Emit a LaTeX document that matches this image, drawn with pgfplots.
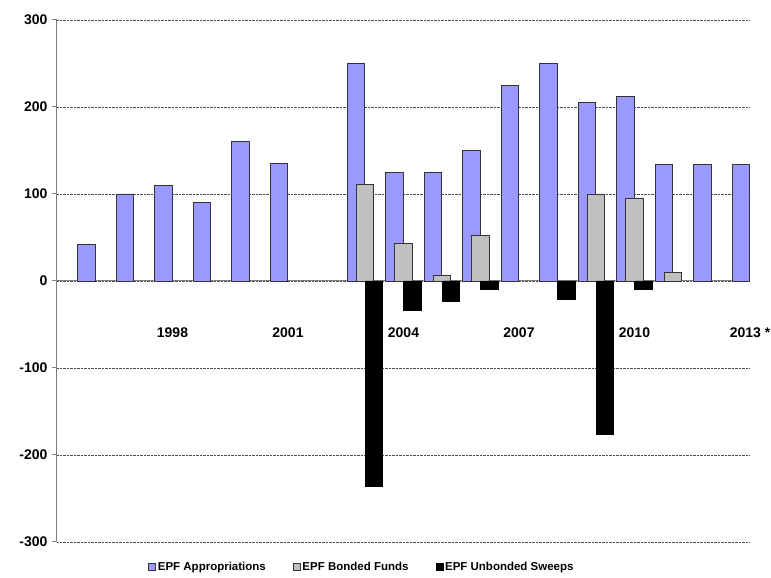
\documentclass[border=0pt]{standalone}
\usepackage{fontspec}
\setmainfont{Liberation Sans}
\usepackage{pgfplots}
\pgfplotsset{compat=1.18}
\definecolor{approp}{HTML}{9999FF}
\definecolor{bonded}{HTML}{C0C0C0}
\definecolor{edge}{HTML}{333333}
\definecolor{axgray}{HTML}{808080}
\begin{document}
\begin{tikzpicture}
\useasboundingbox (-57pt,-36pt) rectangle (714pt,542pt);
\begin{axis}[
  at={(0pt,0pt)}, anchor=south west,
  scale only axis, width=693pt, height=522pt,
  xmin=1995, xmax=2013, ymin=-300, ymax=300,
  axis x line=middle, axis y line=left,
  axis line style={-, draw=axgray, line width=1pt},
  xtick={1998,2001,2004,2007,2010,2013},
  xticklabels={1998,2001,2004,2007,2010,2013 *},
  xtick style={draw=none},
  ytick={-300,-200,-100,0,100,200,300},
  yticklabels={-300,-200,-100,0,100,200,300},
  ytick style={draw=axgray, line width=1pt},
  tick align=outside, major tick length=5pt,
  ymajorgrids, grid style={densely dotted, draw=black!70, line width=0.6pt},
  tick label style={font=\fontsize{14}{16}\selectfont\bfseries},
  x tick label style={anchor=north, yshift=-38pt},
  y tick label style={anchor=east, xshift=-1pt},
  legend style={at={(0.440,-0.048)}, anchor=center, draw=none, fill=none,
    legend columns=3, font=\fontsize{11.5}{13}\selectfont\bfseries,
    /tikz/every even column/.append style={column sep=25pt}},
  legend image code/.code={\draw[#1, line width=0.6pt] (0pt,-3.5pt) rectangle (7pt,3.5pt);},
  clip=false,
]
\addplot[ybar, bar width=17.5pt, bar shift=-9pt, fill=approp, draw=edge, line width=0.8pt]
  coordinates {(1996,42) (1997,100) (1998,110) (1999,90) (2000,160) (2001,135)
  (2003,250) (2004,125) (2005,125) (2006,150) (2007,225) (2008,250) (2009,205)
  (2010,212) (2011,134) (2012,134) (2013,134)};
\addlegendentry{EPF Appropriations}
\addplot[ybar, bar width=17.5pt, bar shift=0pt, fill=bonded, draw=edge, line width=0.8pt]
  coordinates {(2003,111) (2004,43) (2005,7) (2006,52) (2009,100) (2010,95) (2011,10)};
\addlegendentry{EPF Bonded Funds}
\addplot[ybar, bar width=17.5pt, bar shift=9pt, fill=black, draw=black, line width=0.8pt]
  coordinates {(2003,-236) (2004,-34) (2005,-24) (2006,-10) (2008,-21) (2009,-176) (2010,-10)};
\addlegendentry{EPF Unbonded Sweeps}
\end{axis}
\end{tikzpicture}
\end{document}
